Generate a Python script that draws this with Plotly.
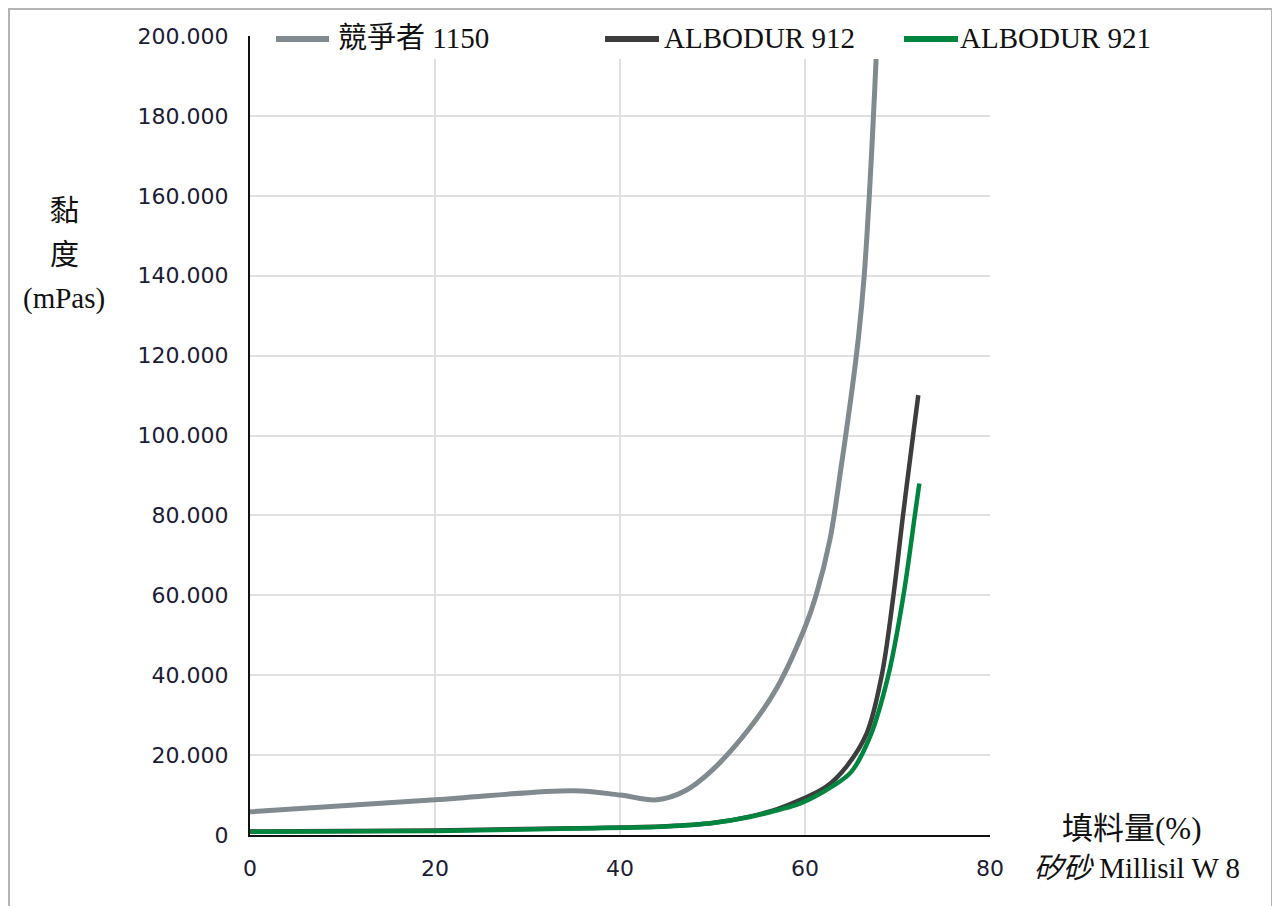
import plotly.graph_objects as go

# ---- data ----
x_comp = [0, 20, 35, 40, 44, 47, 50, 54, 57, 60, 61.2, 62.7, 63.9, 65.0, 65.8, 66.4, 66.95, 67.4, 67.8, 68.1]
y_comp = [5800, 8800, 11100, 10000, 8800, 11000, 16300, 26700, 37000, 52000, 60000, 74000, 92000,
          110000, 125000, 140000, 160000, 180000, 200000, 215000]

x_912 = [0, 20, 35, 45, 50, 54, 57, 59.5, 62.3, 64.5, 66.67, 68.29, 69.55, 70.6, 71.7, 72.25]
y_912 = [900, 1100, 1700, 2200, 3000, 4600, 6500, 8800, 12100, 17200, 25450, 39900, 59800, 80100,
         100300, 110100]

x_921 = [0, 20, 35, 45, 50, 54, 57, 59.5, 62.9, 65.0, 67.03, 69.0, 70.63, 71.88, 72.36]
y_921 = [800, 1000, 1600, 2100, 3000, 4500, 6200, 7900, 12100, 15800, 24600, 39900, 59800, 80100,
         88000]

names = ["競爭者 1150", "ALBODUR 912", "ALBODUR 921"]
colors = ["#808a8f", "#3d3d3d", "#00853f"]
x_ticks = [0, 20, 40, 60, 80]
y_ticks = [0, 20000, 40000, 60000, 80000, 100000, 120000, 140000, 160000, 180000, 200000]

# page offset of the figure (browser body margin)
OX, OY = 8, 8
W, H = 1272, 898
# plot area in page pixels: left 250, right 990, top 36, bottom 835
ML, MT = 250 - OX, 36 - OY
MR, MB = W - (990 - OX), H - (835 - OY)
PW, PH = W - ML - MR, H - MT - MB


def px(xp):
    return (xp - OX - ML) / PW


def py(yp):
    return (H - MB - (yp - OY)) / PH


serif = "Liberation Serif, Noto Sans CJK TC, serif"
tickfont = dict(family="DejaVu Sans, Verdana, sans-serif", size=22, color="#1c1c36")
txt = "#111"

fig = go.Figure()
series = [(x_comp, y_comp), (x_912, y_912), (x_921, y_921)]
widths = [5, 4.5, 4.5]
for (xs, ys), n, c, w in zip(series, names, colors, widths):
    fig.add_trace(go.Scatter(x=xs, y=ys, name=n, mode="lines",
                             line=dict(color=c, width=w, shape="spline", smoothing=1.0),
                             showlegend=False))

shapes = []
# outer frame
shapes.append(dict(type="rect", xref="paper", yref="paper",
                   x0=px(9), x1=px(1272), y0=py(930), y1=py(9),
                   line=dict(color="#b4b4b4", width=2), fillcolor="rgba(0,0,0,0)", layer="above"))
# legend background mask
shapes.append(dict(type="rect", xref="paper", yref="paper",
                   x0=px(265), x1=px(1000), y0=py(59), y1=py(20),
                   line=dict(width=0), fillcolor="white", layer="above"))

legend_pos = [(276, 329, 336), (605, 659, 662), (904, 958, 958)]
annotations = []
for (a, b, t), n, c in zip(legend_pos, names, colors):
    shapes.append(dict(type="line", xref="paper", yref="paper",
                       x0=px(a), x1=px(b), y0=py(39), y1=py(39),
                       line=dict(color=c, width=6), layer="above"))
    annotations.append(dict(text=n, xref="paper", yref="paper", x=px(t), y=py(38),
                            xanchor="left", yanchor="middle", showarrow=False,
                            font=dict(family=serif, size=29, color=txt)))

# y axis title (three stacked lines)
for s, yy in zip(["黏", "度", "(mPas)"], [211, 255, 299]):
    annotations.append(dict(text=s, xref="paper", yref="paper",
                            x=px(64), y=py(yy), xanchor="center", yanchor="middle",
                            showarrow=False, font=dict(family=serif, size=29, color=txt)))
# x axis title
annotations.append(dict(text="填料量(%)", xref="paper", yref="paper",
                        x=px(1131), y=py(828), xanchor="center", yanchor="middle",
                        showarrow=False, font=dict(family=serif, size=31, color=txt)))
annotations.append(dict(text="<i>矽砂</i> Millisil W 8", xref="paper", yref="paper",
                        x=px(1137), y=py(868), xanchor="center", yanchor="middle",
                        showarrow=False, font=dict(family=serif, size=29, color=txt)))

fig.update_layout(
    width=W, height=H,
    margin=dict(l=ML, r=MR, t=MT, b=MB),
    paper_bgcolor="white", plot_bgcolor="white",
    separators=",.",
    shapes=shapes, annotations=annotations,
    xaxis=dict(range=[0, 80], tickvals=x_ticks, showgrid=True, gridcolor="#e0e0e0", gridwidth=1.5,
               zeroline=False, showline=True, linecolor="#111", linewidth=2,
               ticks="", tickfont=tickfont, ticklabelstandoff=13, fixedrange=True),
    yaxis=dict(range=[0, 200000], tickvals=y_ticks, tickformat=",.0f",
               showgrid=True, gridcolor="#e0e0e0", gridwidth=1.5,
               zeroline=False, showline=True, linecolor="#111", linewidth=2,
               ticks="", tickfont=tickfont, ticklabelstandoff=15, fixedrange=True),
)

fig.write_html("out.html")
